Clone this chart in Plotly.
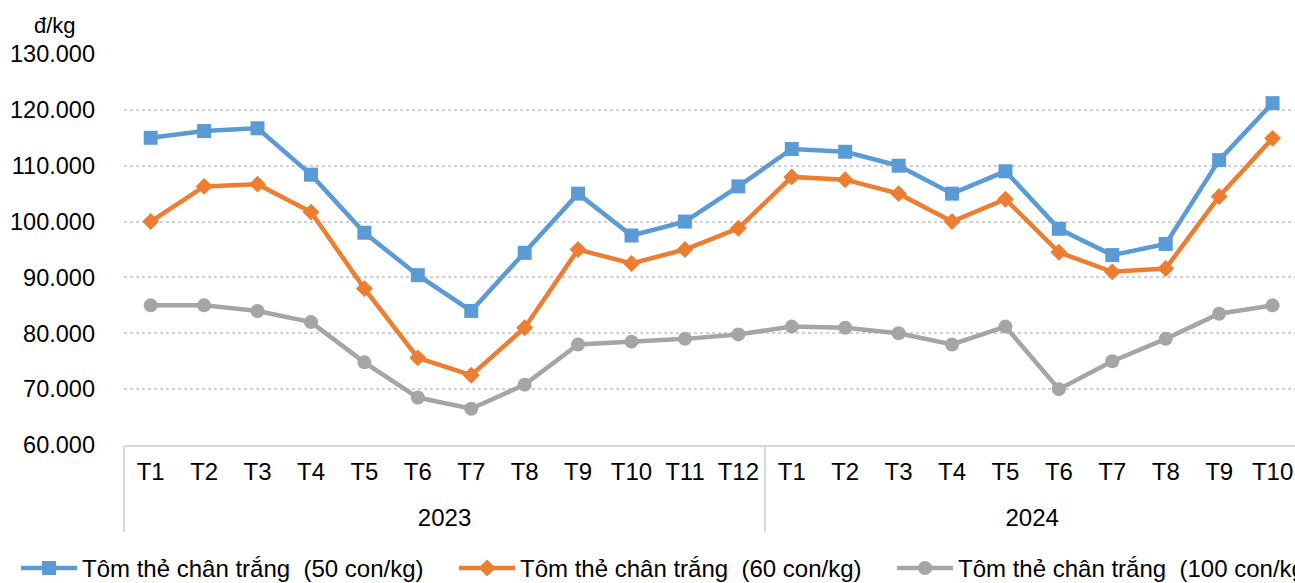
import plotly.graph_objects as go

# Dữ liệu giá tôm thẻ chân trắng (đ/kg)
years = ["2023"] * 12 + ["2024"] * 10
months = ["T1", "T2", "T3", "T4", "T5", "T6", "T7", "T8", "T9", "T10", "T11", "T12",
          "T1", "T2", "T3", "T4", "T5", "T6", "T7", "T8", "T9", "T10"]

tom_50 = [115000, 116200, 116700, 108400, 98000, 90400, 84000, 94400, 105000, 97500, 100000, 106300,
          113000, 112500, 110000, 105000, 109000, 98700, 94000, 96000, 111000, 121200]
tom_60 = [100000, 106300, 106700, 101700, 88000, 75600, 72500, 81000, 95000, 92500, 95000, 98800,
          108000, 107500, 105000, 100000, 104000, 94500, 91000, 91600, 104500, 114900]
tom_100 = [85000, 85000, 84000, 82000, 74800, 68500, 66500, 70800, 78000, 78500, 79000, 79800,
           81200, 81000, 80000, 78000, 81200, 70000, 75000, 79000, 83500, 85000]

names = ["Tôm thẻ chân trắng \u00a0(50 con/kg)",
         "Tôm thẻ chân trắng \u00a0(60 con/kg)",
         "Tôm thẻ chân trắng \u00a0(100 con/kg)"]

# vị trí tháng trên trục và tâm / ranh giới từng năm
idx = list(range(len(months)))
year_list = sorted(set(years))
year_center = [sum(i for i in idx if years[i] == y) / years.count(y) for y in year_list]
year_start = [min(i for i in idx if years[i] == y) - 0.5 for y in year_list]

fig = go.Figure()

# Ba đường giá
fig.add_trace(go.Scatter(
    x=idx, y=tom_50, name=names[0], mode="lines+markers",
    line=dict(color="#5B9BD5", width=4.5),
    marker=dict(symbol="square", size=14, color="#5B9BD5"),
    legendwidth=367,
))
fig.add_trace(go.Scatter(
    x=idx, y=tom_60, name=names[1], mode="lines+markers",
    line=dict(color="#ED7D31", width=4.5),
    marker=dict(symbol="diamond", size=13, color="#ED7D31"),
    legendwidth=367,
))
fig.add_trace(go.Scatter(
    x=idx, y=tom_100, name=names[2], mode="lines+markers",
    line=dict(color="#A5A5A5", width=4.5),
    marker=dict(symbol="circle", size=14, color="#A5A5A5"),
    legendwidth=333, xaxis="x2",
))

x_range = [-0.5, 21.42]

# trục tháng
fig.update_layout(xaxis=dict(
    range=x_range, tickmode="array", tickvals=idx, ticktext=months,
    showline=True, linecolor="#D9D9D9", linewidth=2,
    showgrid=False, zeroline=False, automargin=False,
    ticks="", ticklabelstandoff=4,
    tickfont=dict(size=24, color="#000000"),
))
# trục năm (chồng lên trục tháng) + vạch phân cách năm
fig.update_layout(xaxis2=dict(
    overlaying="x", anchor="y", side="bottom", matches="x",
    range=x_range, tickmode="array", tickvals=year_center, ticktext=year_list,
    showline=False, showgrid=False, zeroline=False, automargin=False,
    ticks="", ticklabelstandoff=56,
    tickfont=dict(size=24, color="#000000"),
    minor=dict(tickmode="array", tickvals=year_start, ticks="outside",
               ticklen=86, tickwidth=2, tickcolor="#D9D9D9", showgrid=False),
))
fig.update_yaxes(
    range=[60000, 130000], dtick=10000, tickformat=",.0f",
    showgrid=True, gridcolor="#D0D0D0", griddash="dot", gridwidth=1.5,
    zeroline=False, showline=False, automargin=False,
    tickfont=dict(size=23.5, color="#000000"),
    ticklabelstandoff=28,
)

fig.update_layout(
    width=1295, height=583,
    separators=",.",
    font=dict(family="Liberation Sans, Arial", size=24, color="#000000"),
    plot_bgcolor="white", paper_bgcolor="white",
    margin=dict(l=124, r=0, t=54, b=138, autoexpand=False),
    showlegend=True,
    legend=dict(
        orientation="h", x=-0.0922, xanchor="left", y=-0.258, yanchor="top",
        font=dict(size=24), itemwidth=56,
        bgcolor="rgba(0,0,0,0)",
    ),
    annotations=[dict(
        text="đ/kg", xref="paper", yref="paper", x=-0.059, y=1.072,
        xanchor="center", yanchor="middle", showarrow=False, font=dict(size=22),
    )],
)

# bỏ lề mặc định của trang để hình nằm sát góc
fig.write_html("out.html", config={"displayModeBar": False},
               post_script="document.body.style.margin = '0';")
